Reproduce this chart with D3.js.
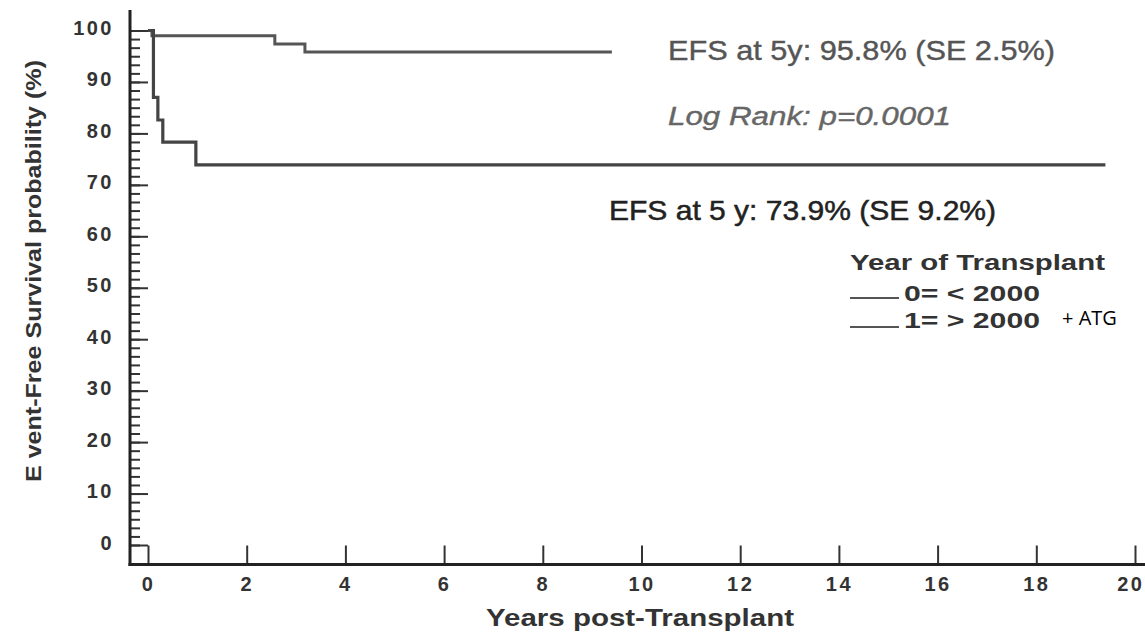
<!DOCTYPE html>
<html>
<head>
<meta charset="utf-8">
<script src="https://cdn.jsdelivr.net/npm/d3@7"></script>
<style>
  html, body { margin: 0; padding: 0; background: #fff; }
  svg { display: block; font-family: "Liberation Sans", Arial, sans-serif; }
</style>
</head>
<body>
<svg id="chart" width="1145" height="641"></svg>
<script>
// Kaplan-Meier steps (years, EFS %)
var groupAfterYears = [0, 0.08, 2.57, 3.18, 9.4];
var groupAfterSurv  = [100, 99.0, 97.4, 95.8, 95.8];
var groupBeforeYears = [0, 0.11, 0.2, 0.3, 0.97, 19.4];
var groupBeforeSurv  = [100, 87.0, 82.6, 78.3, 73.9, 73.9];

var xTicks = [0, 2, 4, 6, 8, 10, 12, 14, 16, 18, 20];
var yTicks = [0, 10, 20, 30, 40, 50, 60, 70, 80, 90, 100];
var yMinorTicks = d3.range(0, 100.01, 10 / 6);

var legendTitle = 'Year of Transplant';
var legendLabels = ['0= < 2000', '1= > 2000'];
var noteTop = 'EFS at 5y: 95.8% (SE 2.5%)';
var noteLog = 'Log Rank: p=0.0001';
var noteBottom = 'EFS at 5 y: 73.9% (SE 9.2%)';

(function () {
    'use strict';

    var svg = d3.select('#chart');

    var x = d3.scaleLinear().domain([0, 20]).range([148, 1135]);
    var y = d3.scaleLinear().domain([0, 100]).range([545, 30.5]);
    var axisX = 130, axisY = 564.5;

    // minor y ticks (pointing inward)
    svg.append('g')
        .attr('transform', 'translate(' + axisX + ',0)')
        .call(d3.axisLeft(y).tickValues(yMinorTicks).tickSize(-10).tickFormat(''))
        .call(function (g) { g.select('.domain').remove(); })
        .selectAll('line').attr('stroke', '#333').attr('stroke-width', 2);

    // major y ticks with labels
    var gy = svg.append('g')
        .attr('transform', 'translate(' + axisX + ',0)')
        .call(d3.axisLeft(y).tickValues(yTicks).tickSize(-18).tickPadding(16));
    gy.select('.domain').remove();
    gy.selectAll('line').attr('stroke', '#333').attr('stroke-width', 2);
    gy.selectAll('text')
        .attr('font-size', 20).attr('font-weight', 'bold')
        .attr('fill', '#333').attr('letter-spacing', 2.5)
        .attr('dy', '0.2em');

    // x axis ticks pointing up, labels below
    var gx = svg.append('g')
        .attr('transform', 'translate(0,' + axisY + ')')
        .call(d3.axisBottom(x).tickValues(xTicks).tickSize(-19).tickPadding(12));
    gx.select('.domain').remove();
    gx.selectAll('line').attr('stroke', '#333').attr('stroke-width', 2);
    gx.selectAll('text')
        .attr('font-size', 20).attr('font-weight', 'bold')
        .attr('fill', '#333').attr('letter-spacing', 2.5);
    // last label would run off the right edge
    gx.selectAll('.tick').filter(function (d) { return d === 20; })
        .select('text').attr('text-anchor', 'end').attr('x', 1144 - x(20));

    // axis lines
    svg.append('line')
        .attr('x1', axisX).attr('x2', axisX).attr('y1', 10).attr('y2', axisY + 1.5)
        .attr('stroke', '#222').attr('stroke-width', 3);
    svg.append('line')
        .attr('x1', axisX - 1.5).attr('x2', 1145).attr('y1', axisY).attr('y2', axisY)
        .attr('stroke', '#222').attr('stroke-width', 3);

    // survival curves
    var line = d3.line()
        .x(function (d) { return x(d[0]); })
        .y(function (d) { return y(d[1]); })
        .curve(d3.curveStepAfter);

    svg.append('path')
        .datum(d3.zip(groupAfterYears, groupAfterSurv))
        .attr('d', line)
        .attr('fill', 'none').attr('stroke', '#555').attr('stroke-width', 3);

    svg.append('path')
        .datum(d3.zip(groupBeforeYears, groupBeforeSurv))
        .attr('d', line)
        .attr('fill', 'none').attr('stroke', '#444').attr('stroke-width', 3.2);

    // annotations
    svg.append('text')
        .attr('x', 668).attr('y', 50).attr('dy', '0.35em')
        .attr('font-size', 28).attr('fill', '#555')
        .attr('stroke', '#555').attr('stroke-width', 0.4)
        .attr('textLength', 387).attr('lengthAdjust', 'spacingAndGlyphs')
        .text(noteTop);

    svg.append('text')
        .attr('x', 668).attr('y', 116).attr('dy', '0.35em')
        .attr('font-size', 26).attr('font-style', 'italic').attr('fill', '#666')
        .attr('stroke', '#666').attr('stroke-width', 0.4)
        .attr('textLength', 283).attr('lengthAdjust', 'spacingAndGlyphs')
        .text(noteLog);

    svg.append('text')
        .attr('x', 609).attr('y', 210).attr('dy', '0.35em')
        .attr('font-size', 28).attr('fill', '#222')
        .attr('stroke', '#222').attr('stroke-width', 0.5)
        .attr('textLength', 387).attr('lengthAdjust', 'spacingAndGlyphs')
        .text(noteBottom);

    // legend
    svg.append('text')
        .attr('x', 850).attr('y', 262).attr('dy', '0.35em')
        .attr('font-size', 22).attr('font-weight', 'bold').attr('fill', '#333')
        .attr('textLength', 255).attr('lengthAdjust', 'spacingAndGlyphs')
        .text(legendTitle);

    var rowY = [293, 320];
    var lineY = [298, 327];
    legendLabels.forEach(function (lab, i) {
        svg.append('line')
            .attr('x1', 850).attr('x2', 899).attr('y1', lineY[i]).attr('y2', lineY[i])
            .attr('stroke', '#555').attr('stroke-width', 2);
        svg.append('text')
            .attr('x', 904).attr('y', rowY[i]).attr('dy', '0.35em')
            .attr('font-size', 22).attr('font-weight', 'bold').attr('fill', '#333')
            .attr('textLength', 136).attr('lengthAdjust', 'spacingAndGlyphs')
            .text(lab);
    });

    svg.append('text')
        .attr('x', 1062).attr('y', 318).attr('dy', '0.35em')
        .attr('font-family', '"Open Sans", "Liberation Sans", sans-serif')
        .attr('font-size', 20).attr('fill', '#000')
        .text('+ ATG');

    // axis titles
    svg.append('text')
        .attr('transform', 'translate(33,271) rotate(-90)')
        .attr('text-anchor', 'middle').attr('dy', '0.35em')
        .attr('font-size', 22).attr('font-weight', 'bold').attr('fill', '#333')
        .attr('textLength', 422).attr('lengthAdjust', 'spacingAndGlyphs')
        .text('E vent-Free Survival probability (%)');

    svg.append('text')
        .attr('x', 640).attr('y', 618).attr('dy', '0.35em')
        .attr('text-anchor', 'middle')
        .attr('font-size', 23).attr('font-weight', 'bold').attr('fill', '#333')
        .attr('textLength', 308).attr('lengthAdjust', 'spacingAndGlyphs')
        .text('Years post-Transplant');
})();
</script>
</body>
</html>
